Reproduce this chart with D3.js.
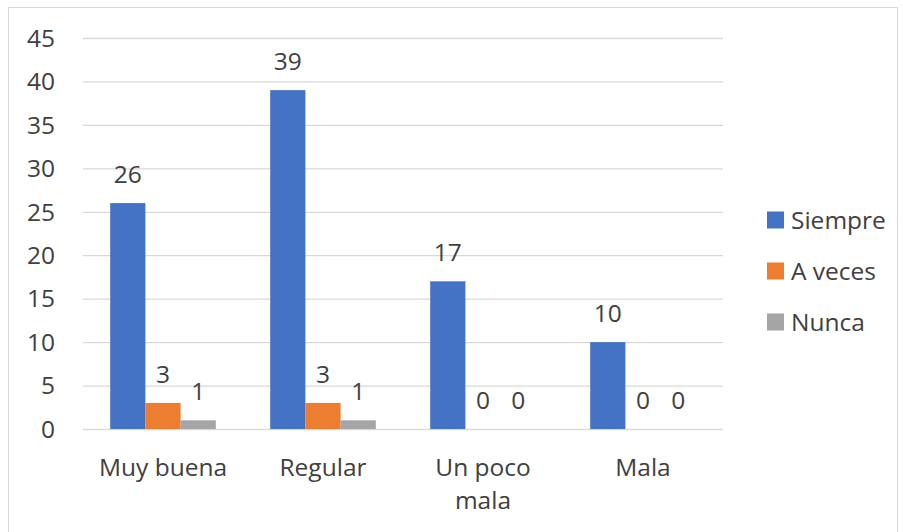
<!DOCTYPE html>
<html>
<head>
<meta charset="utf-8">
<script src="https://cdn.jsdelivr.net/npm/d3@7"></script>
<style>
  body { margin: 0; background: #fff; }
  text { font-family: "Open Sans", sans-serif; fill: #404040; }
</style>
</head>
<body>
<svg id="chart" width="903" height="532"></svg>
<script>
const categories = [['Muy buena'], ['Regular'], ['Un poco', 'mala'], ['Mala']]
const seriesNames = ['Siempre', 'A veces', 'Nunca']
const siempre = [26, 39, 17, 10]
const aVeces = [3, 3, 0, 0]
const nunca = [1, 1, 0, 0]
const yTicks = [0, 5, 10, 15, 20, 25, 30, 35, 40, 45]
const colors = ['#4472c4', '#ed7d31', '#a5a5a5']

const series = [siempre, aVeces, nunca]
const svg = d3.select('#chart')
const fs = 24.5

svg.append('rect')
  .attr('x', 8.5).attr('y', 7.5)
  .attr('width', 889).attr('height', 530)
  .attr('fill', 'none').attr('stroke', '#d9d9d9')

const x0 = d3.scaleBand().domain(d3.range(categories.length)).range([83, 723]).paddingInner(0.34).paddingOuter(0.17)
const x1 = d3.scaleBand().domain(d3.range(series.length)).range([0, x0.bandwidth()])
const y = d3.scaleLinear().domain([0, 45]).range([429, 38])

// gridlines
svg.append('g').selectAll('line').data(yTicks).join('line')
  .attr('x1', 83).attr('x2', 723)
  .attr('y1', d => y(d) + 0.5).attr('y2', d => y(d) + 0.5)
  .attr('stroke', '#d9d9d9').attr('stroke-width', 1.3)

// y tick labels
svg.append('g').selectAll('text').data(yTicks).join('text')
  .attr('x', 55).attr('y', d => y(d))
  .attr('dy', '0.36em')
  .attr('text-anchor', 'end')
  .attr('font-size', fs)
  .text(d => d)

// bars
series.forEach((vals, s) => {
  const g = svg.append('g')
  g.selectAll('rect').data(vals).join('rect')
    .attr('x', (d, i) => x0(i) + x1(s))
    .attr('y', d => y(d))
    .attr('width', x1.bandwidth())
    .attr('height', d => y(0) - y(d))
    .attr('fill', colors[s])
  g.selectAll('text').data(vals).join('text')
    .attr('x', (d, i) => x0(i) + x1(s) + x1.bandwidth() / 2)
    .attr('y', d => y(d) - 20)
    .attr('text-anchor', 'middle')
    .attr('font-size', fs)
    .text(d => d)
})

// category labels
categories.forEach((lines, i) => {
  const t = svg.append('text')
    .attr('x', x0(i) + x0.bandwidth() / 2)
    .attr('y', 476)
    .attr('text-anchor', 'middle')
    .attr('font-size', fs)
  lines.forEach((ln, k) => {
    t.append('tspan')
      .attr('x', x0(i) + x0.bandwidth() / 2)
      .attr('dy', k === 0 ? 0 : 33)
      .text(ln)
  })
})

// legend
const legend = svg.append('g')
seriesNames.forEach((name, s) => {
  const ly = 220 + s * 51
  legend.append('rect')
    .attr('x', 767).attr('y', ly - 8.5)
    .attr('width', 17).attr('height', 17)
    .attr('fill', colors[s])
  legend.append('text')
    .attr('x', 791).attr('y', ly)
    .attr('dy', '0.36em')
    .attr('font-size', fs)
    .text(name)
})
</script>
</body>
</html>
